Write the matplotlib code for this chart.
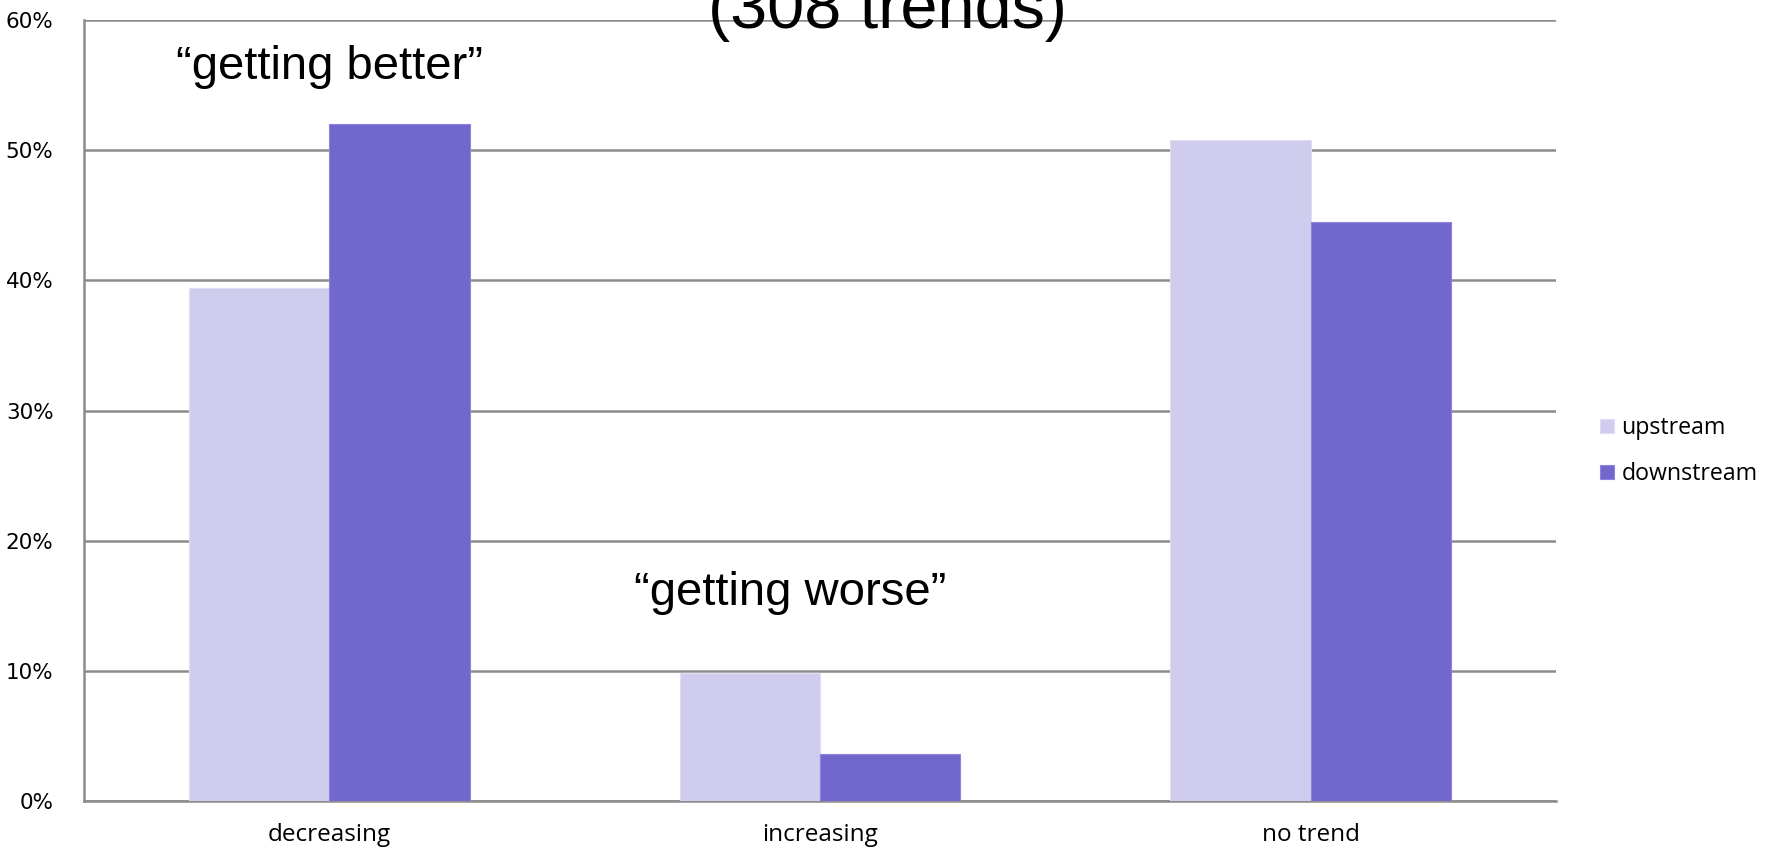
import matplotlib.pyplot as plt
import numpy as np

# trend share per direction, in percent
categories = ["decreasing", "increasing", "no trend"]
upstream = [39.4, 9.8, 50.8]
downstream = [52.0, 3.6, 44.5]
series_names = ["upstream", "downstream"]
yticks = [0, 10, 20, 30, 40, 50, 60]

c_up = "#d0ccee"
c_down = "#7167cd"
grid_c = "#8c8c8c"

plt.rcParams['font.family'] = ["Open Sans", "DejaVu Sans"]
big = ["Liberation Sans", "DejaVu Sans"]

fig = plt.figure(figsize=(17.75, 8.49), dpi=100)
ax = fig.add_axes([84/1775, 1 - 801/849, (1556-84)/1775, (801-20)/849])

x = np.arange(len(categories))
w = 0.286
ax.bar(x - w/2, upstream, w, color=c_up, edgecolor="#e0ddf6", linewidth=0.8,
       label=series_names[0], zorder=3)
ax.bar(x + w/2, downstream, w, color=c_down, edgecolor="#8c84e0", linewidth=0.8,
       label=series_names[1], zorder=3)

ax.set_xlim(-0.5, 2.5)
ax.set_ylim(0, 60)
ax.set_yticks(yticks)
ax.set_yticklabels([f"{t}%" for t in yticks])
ax.set_xticks(x)
ax.set_xticklabels(categories)
ax.tick_params(axis="x", length=0, labelsize=17.5, pad=16)
ax.tick_params(axis="y", length=0, pad=22)
for lab in ax.get_yticklabels():
    lab.set_family(["DejaVu Sans"])
    lab.set_fontsize(15.5)

ax.grid(axis="y", color=grid_c, linewidth=1.8, zorder=0)
ax.set_axisbelow(True)
for s in ["top", "right"]:
    ax.spines[s].set_visible(False)
for s in ["left", "bottom"]:
    ax.spines[s].set_color(grid_c)
    ax.spines[s].set_linewidth(1.8)

ax.text(0, 56.4, "\u201cgetting better\u201d", ha="center", va="center",
        fontsize=34, family=big)
ax.text(0.94, 16.0, "\u201cgetting worse\u201d", ha="center", va="center",
        fontsize=34, family=big)

# title sits mostly above the top edge
fig.text(0.5, 0.967, "(308 trends)", ha="center", va="baseline",
         fontsize=48, family=big)

leg = ax.legend(loc="center left", bbox_to_anchor=(1.016, 0.448), frameon=False,
                fontsize=16.7, handlelength=0.6, handleheight=0.6,
                handletextpad=0.3, labelspacing=0.95)

fig.savefig("out.png", dpi=100)
